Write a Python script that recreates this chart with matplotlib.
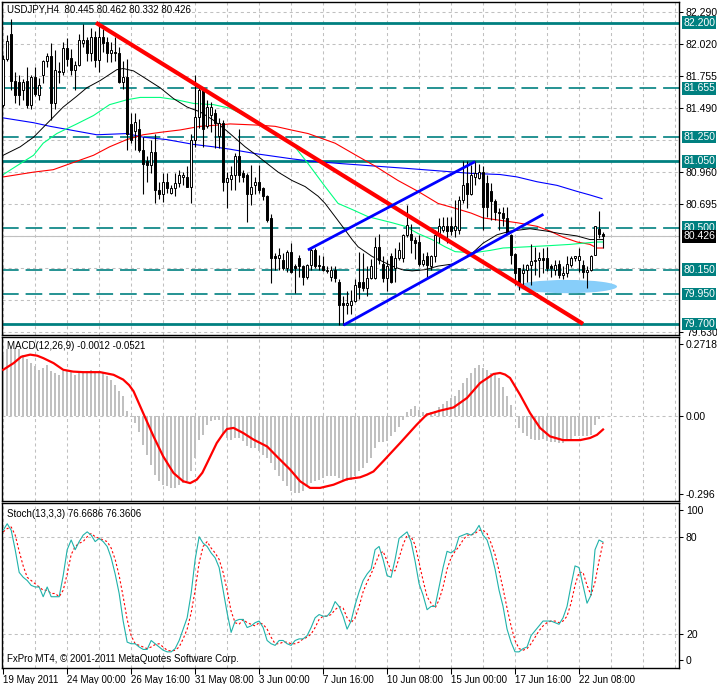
import numpy as np
import matplotlib
matplotlib.use('Agg')
import matplotlib.pyplot as plt
from matplotlib.patches import Ellipse

plt.rcParams['font.family'] = ['Liberation Sans', 'DejaVu Sans']
plt.rcParams['lines.scale_dashes'] = False

W, H = 717, 684

# USDJPY H4 candles (bar index 0..150)
opens = [81.52, 81.90, 82.11, 81.72, 81.71, 81.64, 81.72, 81.52, 81.75, 81.60,
         81.77, 81.88, 81.92, 81.53, 81.80, 81.79, 81.99, 81.91, 81.81, 81.85,
         82.03, 82.06, 81.95, 82.08, 81.89, 82.08, 82.04, 81.95, 81.96, 81.95,
         81.71, 81.75, 81.36, 81.30, 81.32, 81.14, 81.05, 81.02, 81.13, 80.81,
         80.78, 80.88, 80.79, 80.83, 80.87, 80.92, 80.92, 80.84, 81.23, 81.42,
         81.64, 81.34, 81.43, 81.45, 81.26, 81.37, 80.88, 80.90, 80.94, 81.09,
         80.95, 80.94, 80.78, 80.85, 80.88, 80.83, 80.76, 80.58, 80.26, 80.25,
         80.23, 80.16, 80.30, 80.18, 80.25, 80.18, 80.09, 80.19, 80.31, 80.19,
         80.18, 80.14, 80.09, 80.15, 80.05, 79.87, 79.86, 79.86, 79.89, 80.05,
         80.05, 80.00, 80.08, 80.08, 80.34, 80.20, 80.08, 80.26, 80.16, 80.25,
         80.25, 80.44, 80.45, 80.40, 80.38, 80.20, 80.26, 80.18, 80.26, 80.44,
         80.48, 80.51, 80.51, 80.48, 80.48, 80.73, 80.87, 80.78, 80.92, 80.91,
         80.96, 80.87, 80.80, 80.72, 80.63, 80.62, 80.58, 80.44, 80.28, 80.16,
         80.12, 80.15, 80.19, 80.22, 80.23, 80.25, 80.25, 80.18, 80.15, 80.20,
         80.11, 80.12, 80.19, 80.25, 80.23, 80.19, 80.13, 80.15, 80.27, 80.49,
         80.445]
highs = [81.93, 82.10, 82.23, 81.79, 81.77, 81.73, 81.83, 81.77, 81.83, 81.74,
         81.89, 81.95, 82.03, 81.97, 81.87, 82.04, 82.07, 81.98, 81.88, 82.11,
         82.19, 82.08, 82.16, 82.13, 82.17, 82.15, 82.08, 82.04, 82.08, 82.00,
         81.88, 81.90, 81.45, 81.45, 81.40, 81.25, 81.09, 81.23, 81.28, 80.88,
         80.95, 80.95, 80.85, 80.95, 80.98, 80.96, 81.01, 81.28, 81.77, 81.68,
         81.66, 81.56, 81.54, 81.48, 81.41, 81.39, 80.96, 81.01, 81.12, 81.32,
         80.98, 80.95, 81.02, 80.92, 81.02, 80.84, 80.77, 80.61, 80.29, 80.33,
         80.29, 80.31, 80.37, 80.20, 80.27, 80.19, 80.20, 80.33, 80.33, 80.27,
         80.26, 80.18, 80.18, 80.18, 80.07, 79.93, 79.97, 79.98, 80.07, 80.30,
         80.29, 80.18, 80.24, 80.42, 80.45, 80.26, 80.23, 80.29, 80.33, 80.38,
         80.45, 80.69, 80.53, 80.42, 80.44, 80.29, 80.30, 80.27, 80.48, 80.58,
         80.59, 80.59, 80.59, 80.73, 80.76, 81.05, 81.05, 81.02, 81.05, 81.03,
         81.01, 80.94, 80.87, 80.74, 80.66, 80.67, 80.67, 80.45, 80.29, 80.16,
         80.20, 80.20, 80.36, 80.34, 80.30, 80.33, 80.34, 80.20, 80.23, 80.23,
         80.18, 80.26, 80.26, 80.26, 80.33, 80.23, 80.18, 80.27, 80.51, 80.64,
         80.462]
lows = [81.50, 81.88, 81.64, 81.53, 81.52, 81.56, 81.49, 81.48, 81.59, 81.56,
        81.70, 81.83, 81.39, 81.48, 81.70, 81.77, 81.84, 81.77, 81.64, 81.84,
        82.00, 81.88, 81.88, 81.83, 81.79, 81.96, 81.87, 81.87, 81.88, 81.70,
        81.65, 81.14, 81.20, 81.14, 81.13, 80.78, 80.88, 80.95, 80.70, 80.74,
        80.71, 80.79, 80.78, 80.76, 80.84, 80.85, 80.84, 80.70, 81.17, 81.33,
        81.17, 81.33, 81.29, 81.16, 81.16, 80.80, 80.66, 80.81, 80.81, 80.88,
        80.88, 80.55, 80.69, 80.78, 80.79, 80.73, 80.55, 80.04, 80.15, 80.15,
        80.15, 80.13, 80.12, 79.96, 80.09, 80.02, 80.07, 80.15, 80.16, 80.15,
        80.14, 80.12, 80.06, 80.05, 79.69, 79.69, 79.78, 79.78, 79.88, 79.91,
        79.97, 79.93, 80.07, 80.07, 80.20, 80.05, 79.97, 80.04, 80.05, 80.23,
        80.21, 80.42, 80.29, 80.24, 80.18, 80.18, 80.08, 80.15, 80.21, 80.37,
        80.46, 80.37, 80.44, 80.42, 80.45, 80.70, 80.66, 80.77, 80.85, 80.90,
        80.48, 80.59, 80.56, 80.56, 80.48, 80.51, 80.45, 80.20, 80.02, 79.98,
        80.02, 80.05, 80.02, 80.11, 80.09, 80.12, 80.14, 80.09, 80.11, 80.08,
        80.07, 80.09, 80.17, 80.22, 80.13, 80.08, 80.00, 80.14, 80.27, 80.41,
        80.332]
closes = [81.90, 82.05, 81.72, 81.60, 81.60, 81.71, 81.52, 81.75, 81.61, 81.68,
          81.88, 81.92, 81.53, 81.81, 81.79, 81.99, 81.90, 81.81, 81.85, 82.06,
          82.06, 81.95, 82.08, 81.89, 82.08, 82.03, 81.95, 81.97, 81.95, 81.71,
          81.75, 81.28, 81.23, 81.38, 81.14, 81.03, 81.02, 81.13, 80.81, 80.78,
          80.88, 80.83, 80.83, 80.87, 80.94, 80.94, 80.84, 81.23, 81.42, 81.64,
          81.32, 81.50, 81.50, 81.37, 81.37, 80.88, 80.91, 80.94, 81.09, 80.94,
          80.92, 80.78, 80.84, 80.88, 80.81, 80.76, 80.56, 80.25, 80.25, 80.27,
          80.16, 80.30, 80.13, 80.16, 80.18, 80.09, 80.19, 80.31, 80.18, 80.18,
          80.15, 80.15, 80.15, 80.08, 79.86, 79.86, 79.87, 79.89, 80.02, 80.01,
          80.00, 80.08, 80.18, 80.34, 80.23, 80.08, 80.18, 80.05, 80.25, 80.31,
          80.44, 80.52, 80.40, 80.37, 80.20, 80.23, 80.19, 80.26, 80.44, 80.51,
          80.51, 80.47, 80.47, 80.51, 80.73, 80.85, 80.78, 80.94, 80.95, 80.96,
          80.67, 80.67, 80.72, 80.63, 80.62, 80.58, 80.45, 80.27, 80.12, 80.02,
          80.15, 80.19, 80.22, 80.23, 80.25, 80.23, 80.16, 80.16, 80.19, 80.11,
          80.12, 80.20, 80.25, 80.26, 80.26, 80.13, 80.15, 80.26, 80.51, 80.45,
          80.426]

# moving averages (bar index, price)
ma_black_i = [0, 4.25, 7.6, 11.75, 15, 18.4, 20.9, 24.25, 28.4, 30, 32.6, 35, 39.25, 42.6, 46, 49.25,
              52.6, 56, 60.5, 63.75, 68.75, 72.25, 75.5, 78.75, 80.5, 83, 85.5, 87.25, 88.75, 92.25,
              94.75, 97.25, 99.75, 102.25, 105.5, 108.75, 113, 116.75, 120, 123.5, 126.75, 131.75,
              136, 139.25, 143.5, 146.75, 150]
ma_black_v = [81.10, 81.17, 81.25, 81.39, 81.50, 81.59, 81.66, 81.72, 81.81, 81.82, 81.80, 81.75, 81.66,
              81.57, 81.50, 81.46, 81.39, 81.30, 81.17, 81.09, 80.96, 80.89, 80.84, 80.76, 80.70, 80.59,
              80.48, 80.40, 80.34, 80.26, 80.22, 80.18, 80.15, 80.14, 80.15, 80.18, 80.20, 80.27, 80.37,
              80.44, 80.47, 80.49, 80.47, 80.45, 80.43, 80.40, 80.40]
ma_green_i = [0, 4.25, 7.6, 10, 13.4, 18.4, 22.6, 26.6, 30.9, 34.25, 39.25, 43.4, 47.6, 52.6, 56.75,
              63, 72.25, 76.25, 80.5, 83.75, 87.25, 91.25, 97.25, 100.5, 103.75, 107.25, 110.5, 113,
              117.5, 121.75, 125, 131, 136.75, 141.75, 145, 148.5, 150]
ma_green_v = [80.94, 81.03, 81.10, 81.20, 81.28, 81.36, 81.43, 81.52, 81.56, 81.58, 81.58, 81.56, 81.53,
              81.52, 81.49, 81.39, 81.20, 81.03, 80.84, 80.70, 80.65, 80.59, 80.54, 80.51, 80.45, 80.40,
              80.34, 80.30, 80.29, 80.31, 80.33, 80.34, 80.35, 80.36, 80.37, 80.38, 80.38]
ma_red_i = [0, 7.6, 12.5, 18.4, 22.6, 26.6, 30.9, 35, 39.25, 44.25, 49.25, 53.4, 56.75, 63.75, 68, 72,
            76.25, 83, 88.75, 93, 98.75, 103.75, 108.75, 113, 117, 120, 124.25, 128.5, 133.5, 136.75,
            140, 143.5, 146.75, 148.5, 150]
ma_red_v = [80.92, 80.96, 80.98, 81.05, 81.10, 81.17, 81.23, 81.27, 81.29, 81.31, 81.34, 81.35, 81.36,
            81.35, 81.34, 81.31, 81.28, 81.20, 81.09, 81.01, 80.89, 80.80, 80.70, 80.66, 80.62, 80.58,
            80.56, 80.54, 80.51, 80.47, 80.42, 80.38, 80.36, 80.33, 80.33]
ma_blue_i = [0, 7.6, 11.75, 18.4, 23.4, 30.9, 35, 40.9, 47.6, 52.6, 56.75, 63.75, 72.25, 77.25, 84.75,
             93, 101.25, 113, 116.75, 124.25, 128.5, 133.5, 138.5, 143.5, 146.75, 149.75]
ma_blue_v = [81.41, 81.37, 81.34, 81.30, 81.27, 81.28, 81.25, 81.23, 81.19, 81.17, 81.15, 81.11, 81.07,
             81.05, 81.03, 81.01, 80.99, 80.96, 80.95, 80.94, 80.92, 80.88, 80.85, 80.80, 80.77, 80.74]

# drawn objects: trend lines (bar index, price) and the ellipse
red_trend = [(23.2, 82.20), (145, 79.70)]
blue_upper = [(76.2, 80.314), (118, 81.047)]
blue_lower = [(85.1, 79.69), (135.1, 80.61)]
ellipse_c = (141, 80.01)
ellipse_size = (25, 0.11)

solid_levels = [82.200, 81.050, 79.700]
dashed_levels = [81.655, 81.250, 80.500, 80.150, 79.950]
last_price = 80.426
price_grid = [82.290, 82.020, 81.755, 81.490, 81.225, 80.960, 80.695, 80.430, 80.165, 79.900, 79.630]
# labels covered by the level boxes in the reference are left out
price_labels = [82.290, 82.020, 81.755, 81.490, 80.960, 80.695, 79.630]

# MACD histogram and signal
macd_hist = [0.23, 0.25, 0.255, 0.255, 0.25, 0.23, 0.213, 0.198, 0.186, 0.173,
             0.18, 0.192, 0.167, 0.161, 0.154, 0.167, 0.167, 0.163, 0.154, 0.163,
             0.167, 0.167, 0.173, 0.167, 0.167, 0.161, 0.148, 0.136, 0.117, 0.092,
             0.075, 0.016, -0.005, -0.028, -0.063, -0.109, -0.147, -0.185, -0.222, -0.247,
             -0.26, -0.266, -0.272, -0.272, -0.26, -0.254, -0.247, -0.21, -0.16, -0.09,
             -0.072, -0.034, -0.021, -0.015, -0.018, -0.066, -0.085, -0.09, -0.085, -0.085,
             -0.097, -0.116, -0.122, -0.122, -0.134, -0.147, -0.16, -0.178, -0.203, -0.228,
             -0.247, -0.266, -0.285, -0.291, -0.291, -0.285, -0.266, -0.254, -0.247, -0.241,
             -0.235, -0.228, -0.228, -0.228, -0.235, -0.244, -0.247, -0.241, -0.229, -0.21,
             -0.197, -0.178, -0.159, -0.122, -0.099, -0.099, -0.094, -0.078, -0.062, -0.044,
             -0.015, 0.014, 0.026, 0.035, 0.023, 0.014, 0.010, 0.014, 0.019, 0.031,
             0.044, 0.054, 0.067, 0.073, 0.098, 0.123, 0.142, 0.161, 0.18, 0.192,
             0.178, 0.173, 0.161, 0.157, 0.142, 0.107, 0.075, 0.039, -0.002, -0.046,
             -0.065, -0.078, -0.088, -0.092, -0.092, -0.087, -0.094, -0.099, -0.099, -0.103,
             -0.103, -0.094, -0.094, -0.078, -0.078, -0.078, -0.078, -0.072, -0.036, -0.013,
             -0.0012]
sig_i = [0, 2.6, 4.5, 6.75, 8.5, 10, 12.6, 15, 17.5, 20, 24.25, 27.6, 30, 31.5, 32.6, 35, 37.6, 40,
         42.6, 45, 46.75, 48.4, 49.8, 51, 53.4, 55, 56, 57.6, 60, 62.6, 66, 68.4, 71.75, 74.25, 76.75,
         79.25, 82.6, 86, 89.25, 91, 92.6, 95, 99.25, 103.4, 105.9, 109.25, 112.6, 116, 119.25, 122.6,
         124.25, 125.5, 126.75, 129.25, 131.75, 134.25, 136.75, 140, 144.25, 146.75, 148.5, 150]
sig_v = [0.173, 0.198, 0.222, 0.23, 0.226, 0.217, 0.198, 0.173, 0.166, 0.164, 0.164, 0.154, 0.136,
         0.115, 0.092, 0.01, -0.078, -0.153, -0.216, -0.247, -0.254, -0.241, -0.215, -0.178, -0.103,
         -0.068, -0.05, -0.046, -0.065, -0.09, -0.116, -0.153, -0.203, -0.247, -0.272, -0.272, -0.26,
         -0.239, -0.232, -0.222, -0.21, -0.172, -0.103, -0.034, 0.004, 0.019, 0.031, 0.067, 0.123,
         0.157, 0.161, 0.155, 0.142, 0.079, 0.01, -0.046, -0.078, -0.092, -0.092, -0.084, -0.072, -0.052]

# Stochastic %K and %D
stoch_k = [84, 88, 84, 72, 58, 55, 53, 50, 49, 49,
           43, 49, 43, 43, 43, 56, 72, 78, 72, 77,
           81, 83, 81, 77, 79, 77, 74, 67, 57, 45,
           28, 15, 14, 14, 12, 10.5, 10.5, 16, 14, 12,
           10, 9, 9, 11, 16, 23, 30, 45, 66, 80,
           76, 74, 70, 67, 61, 47, 33, 21, 28, 29,
           29, 24, 25, 27, 28, 24, 16, 14, 13, 16,
           16, 14, 13, 16, 17, 17, 19, 24, 30, 32,
           31, 31, 34, 40, 37, 31, 23, 28, 38, 46,
           53, 57, 60, 72, 74, 66, 56, 55, 66, 79,
           81, 83, 77, 65, 51, 44, 35, 37, 37, 49,
           61, 71, 70, 72, 80, 81, 82, 81, 83, 87,
           81, 78, 70, 60, 47, 37, 23, 15, 9, 9,
           11, 12, 19, 22, 25, 28, 28, 28, 27, 26,
           30, 37, 50, 62, 61, 50, 39, 44, 72, 78,
           76.67]
stoch_d = [83, 85, 86, 81, 71, 62, 55, 53, 51, 49,
           47, 47, 45, 45, 43, 47, 57, 69, 74, 76,
           77, 80, 82, 80, 79, 78, 77, 73, 66, 56,
           43, 29, 19, 14, 13, 12, 11, 12, 13.5, 14,
           12, 10, 9.5, 10, 12, 17, 23, 33, 47, 64,
           74, 77, 73, 70, 66, 58, 47, 34, 27, 26,
           29, 27, 26, 25, 27, 26, 23, 18, 14, 14,
           15, 15, 14, 14, 15, 17, 18, 20, 24, 29,
           31, 31, 32, 35, 37, 36, 30, 27, 30, 37,
           46, 52, 57, 63, 69, 71, 65, 59, 59, 67,
           75, 81, 80, 75, 64, 53, 43, 39, 36, 41,
           49, 60, 67, 71, 74, 78, 81, 81, 82, 84,
           84, 82, 76, 69, 59, 48, 36, 25, 16, 11,
           10, 11, 14, 18, 22, 25, 27, 28, 28, 27,
           28, 31, 39, 50, 58, 58, 50, 44, 52, 65,
           76.36]

time_ticks = [0, 16, 32, 48, 64, 80, 96, 112, 128, 144]
time_labels = ['19 May 2011', '24 May 00:00', '26 May 16:00', '31 May 08:00', '3 Jun 00:00',
               '7 Jun 16:00', '10 Jun 08:00', '15 Jun 00:00', '17 Jun 16:00', '22 Jun 08:00']

GRID = '#c0c0c0'
TEAL = '#008080'
FS = 7.5


def box(l, t, r, b):
    return [l / W, 1 - b / H, (r - l) / W, (b - t) / H]


fig = plt.figure(figsize=(W / 100, H / 100), dpi=100)
fig.patch.set_facecolor('white')
ax = fig.add_axes(box(2, 2, 679, 335))
ax_m = fig.add_axes(box(2, 337, 679, 501))
ax_s = fig.add_axes(box(2, 503, 679, 668))

for a in (ax, ax_m, ax_s):
    a.set_xlim(-0.3, 169)
    for s in a.spines.values():
        s.set_linewidth(1.0)
        s.set_color('black')
    for gx in range(0, 169, 8):
        a.axvline(gx, color=GRID, lw=0.75, dashes=(2.2, 2.2), zorder=0)
    a.yaxis.tick_right()
    a.tick_params(axis='y', labelsize=FS, length=3, width=0.75, pad=2, direction='out')
    a.tick_params(axis='x', length=0)
    a.set_xticks([])

# ---- price panel
ax.set_ylim(79.608, 82.372)
for p in price_grid:
    ax.axhline(p, color=GRID, lw=0.75, dashes=(2.2, 2.2), zorder=0)
ax.set_yticks(price_labels)
ax.set_yticklabels([f'{p:.3f}' for p in price_labels])

for lv in solid_levels:
    ax.axhline(lv, color=TEAL, lw=2.0, zorder=1)
for lv in dashed_levels:
    ax.axhline(lv, color=TEAL, lw=1.2, dashes=(12, 5), zorder=1)
ax.axhline(last_price, color=GRID, lw=0.8, zorder=1)

ax.add_patch(Ellipse(ellipse_c, ellipse_size[0], ellipse_size[1], color='#87cefa', lw=0, zorder=1.5))

ax.plot(ma_blue_i, ma_blue_v, color='#0000ff', lw=0.8, zorder=2)
ax.plot(ma_red_i, ma_red_v, color='#ff0000', lw=0.8, zorder=2)
ax.plot(ma_green_i, ma_green_v, color='#00ff7f', lw=0.8, zorder=2)
ax.plot(ma_black_i, ma_black_v, color='black', lw=0.7, zorder=2)

n = len(closes)
xs = np.arange(n)
o = np.array(opens)
c = np.array(closes)
ax.vlines(xs, lows, highs, color='black', lw=0.8, zorder=3)
bottoms = np.minimum(o, c)
heights = np.maximum(np.abs(c - o), 0.004)
face = ['white' if cc >= oo else 'black' for oo, cc in zip(o, c)]
ax.bar(xs, heights, bottom=bottoms, width=0.55, color=face, edgecolor='black', lw=0.7, zorder=4)

for (x0, y0), (x1, y1) in [red_trend]:
    ax.plot([x0, x1], [y0, y1], color='#ff0000', lw=3.0, solid_capstyle='butt', zorder=5)
for (x0, y0), (x1, y1) in [blue_upper, blue_lower]:
    ax.plot([x0, x1], [y0, y1], color='#0000ff', lw=2.0, solid_capstyle='butt', zorder=5)

ytr = ax.get_yaxis_transform()
for lv in solid_levels + dashed_levels:
    ax.text(1.006, lv, f'{lv:.3f}', transform=ytr, color='white', fontsize=FS, va='center', ha='left',
            bbox=dict(boxstyle='square,pad=0.12', fc=TEAL, ec='none'), clip_on=False, zorder=10)
ax.text(1.006, last_price, f'{last_price:.3f}', transform=ytr, color='white', fontsize=FS, va='center',
        ha='left', bbox=dict(boxstyle='square,pad=0.12', fc='black', ec='none'), clip_on=False, zorder=11)

fig.text(7 / W, 1 - 10 / H, 'USDJPY,H4  80.445 80.462 80.332 80.426', fontsize=7, va='center')

# ---- MACD panel
ax_m.set_ylim(-0.3213, 0.2964)
ax_m.axhline(0, color=GRID, lw=0.75, dashes=(2.2, 2.2), zorder=0)
ax_m.bar(xs, macd_hist, width=0.6, color='#c0c0c0', zorder=2)
ax_m.plot(sig_i, sig_v, color='#ff0000', lw=1.6, zorder=3)
ax_m.set_yticks([0.270, 0.0, -0.295])
ax_m.set_yticklabels(['0.2718', '0.00', '-0.296'])
fig.text(7 / W, 1 - 346 / H, 'MACD(12,26,9) -0.0012 -0.0521', fontsize=7, va='center')

# ---- Stochastic panel
ax_s.set_ylim(-0.96, 100.8)
for lv in (80, 20):
    ax_s.axhline(lv, color=GRID, lw=0.75, dashes=(2.2, 2.2), zorder=0)
ax_s.plot(xs, stoch_k, color='#20b2aa', lw=0.8, zorder=3)
ax_s.plot(xs, stoch_d, color='#ff0000', lw=0.8, dashes=(1.6, 1.6), zorder=2)
ax_s.set_yticks([96.5, 80, 20, 4])
ax_s.set_yticklabels(['100', '80', '20', '0'])
ax_s.set_xticks(time_ticks)
ax_s.set_xticklabels(time_labels, fontsize=7, ha='left')
ax_s.tick_params(axis='x', length=4, width=0.75, pad=1, direction='out')
fig.text(7 / W, 1 - 514 / H, 'Stoch(13,3,3) 76.6686 76.3606', fontsize=7, va='center')
fig.text(7 / W, 1 - 659 / H, 'FxPro MT4, \u00a9 2001-2011 MetaQuotes Software Corp.', fontsize=7, va='center')

fig.savefig('out.png', dpi=100)
